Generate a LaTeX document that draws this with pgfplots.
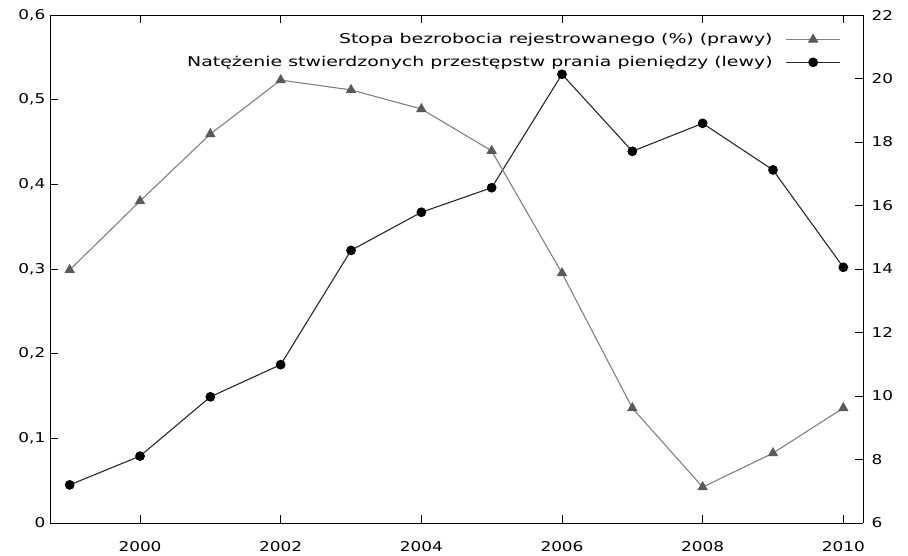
\documentclass[border=0pt]{standalone}
\usepackage{pgfplots}
\pgfplotsset{compat=1.18}
\usepackage{fontspec}
\setmainfont{DejaVu Sans}[FakeStretch=1.4]
\newfontfamily\tickfont{DejaVu Sans}[FakeStretch=1.25]
\definecolor{unempline}{RGB}{128,128,128}
\definecolor{unempmark}{RGB}{90,90,90}
\definecolor{mlline}{RGB}{40,40,40}

\begin{document}
\fontsize{13.5}{16}\selectfont
\begin{tikzpicture}
  \path[use as bounding box] (-50pt,-33pt) rectangle (858pt,523pt);
  \pgfplotsset{
    every axis/.append style={
      scale only axis, width=813pt, height=508pt,
      xmin=1998.72, xmax=2010.28,
      /pgf/number format/assume math mode=true,
      tick style={black, line width=0.8pt, major tick length=8pt},
      tick align=inside,
      axis line style={black, line width=0.9pt},
      every tick label/.append style={font=\tickfont\fontsize{13.5}{16}\selectfont},
    }
  }
  % left axis: money laundering
  \begin{axis}[
      ymin=0, ymax=0.6,
      ytick={0,0.1,0.2,0.3,0.4,0.5,0.6},
      yticklabel style={/pgf/number format/use comma, /pgf/number format/fixed,
        /pgf/number format/precision=1},
      xtick={2000,2002,2004,2006,2008,2010},
      xticklabel style={/pgf/number format/1000 sep={}, yshift=-14pt},
      axis y line*=left, axis x line*=box,
      xtick pos=both, ytick pos=left,
    ]
    \addplot[mlline, line width=1.1pt, mark=*, mark size=4.3pt,
      mark options={fill=black, draw=black}] coordinates {
      (1999,0.045) (2000,0.079) (2001,0.149) (2002,0.187) (2003,0.322)
      (2004,0.367) (2005,0.396) (2006,0.530) (2007,0.439) (2008,0.472)
      (2009,0.417) (2010,0.302)};
  \end{axis}
  % right axis: unemployment
  \begin{axis}[
      ymin=6, ymax=22,
      ytick={6,8,10,12,14,16,18,20,22},
      yticklabel style={xshift=4pt},
      axis y line*=right, axis x line=none,
      ytick pos=right,
      legend style={at={(0.9765,0.972)}, anchor=north east, draw=none, fill=none,
        font=\fontsize{13.5}{16}\selectfont, row sep=6.5pt, column sep=11pt},
      legend cell align=right,
      legend plot pos=right,
      legend image code/.code={%
        \draw[mark repeat=2, mark phase=2] plot coordinates {(0pt,0pt) (27pt,0pt) (54pt,0pt)};},
    ]
    \addplot[unempline, line width=1.1pt, mark=triangle*, mark size=5pt,
      mark options={fill=unempmark, draw=unempmark}] coordinates {
      (1999,13.97) (2000,16.14) (2001,18.25) (2002,19.95) (2003,19.64)
      (2004,19.04) (2005,17.72) (2006,13.87) (2007,9.62) (2008,7.13)
      (2009,8.20) (2010,9.62)};
    \addlegendentry{Stopa bezrobocia rejestrowanego (\%) (prawy)}
    \addlegendimage{mlline, line width=1.1pt, mark=*, mark size=4.3pt,
      mark options={fill=black, draw=black}}
    \addlegendentry{Natężenie stwierdzonych przestępstw prania pieniędzy (lewy)}
  \end{axis}
\end{tikzpicture}
\end{document}
